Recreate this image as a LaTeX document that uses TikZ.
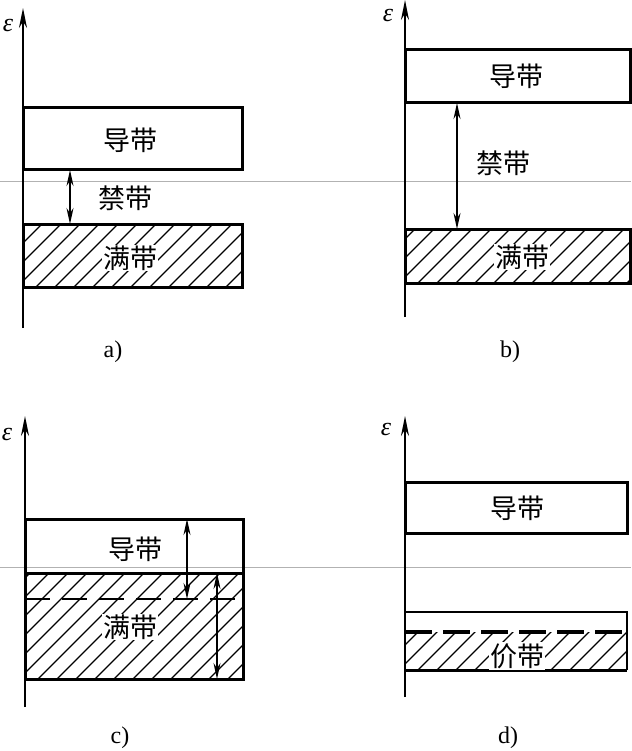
\documentclass[tikz,border=0pt]{standalone}
\usepackage{fontspec}
\setmainfont{Liberation Serif}
\newfontfamily\cjk{Noto Sans CJK SC}
\usetikzlibrary{arrows.meta, positioning}

% hachura a 45 graus dentro de um retangulo
\newcommand{\hachura}[4]{%
  \begin{scope}
    \clip (#1,#2) rectangle (#3,#4);
    \foreach \k in {-120,-101,...,260} \draw[hach] (#1+\k,#4) -- ++(300,-300);
  \end{scope}}

\begin{document}
\begin{tikzpicture}[x=1pt, y=-1pt, >=Stealth,
		eixo/.style={line width=1.8pt, -{Stealth[length=20pt, width=8pt]}},
		banda/.style={line width=3pt},
		hach/.style={line width=1.1pt},
		seta/.style={line width=1.5pt, {Stealth[length=16pt, width=7pt]}-{Stealth[length=16pt, width=7pt]}},
		rotulo/.style={font=\cjk\fontsize{27}{30}\selectfont, inner sep=1pt},
		rotulobr/.style={rotulo, fill=white},
		eps/.style={font=\fontsize{26}{28}\selectfont\itshape, inner sep=0pt},
		legenda/.style={font=\fontsize{24}{26}\selectfont},
		tracos/.style={line width=2pt, dash pattern=on 25pt off 12pt},
		tracosg/.style={line width=3.5pt, dash pattern=on 27pt off 11pt}]
		
		\useasboundingbox (0,0) rectangle (631,751);
		
		% Linhas finas da digitalizacao
		\draw[gray!60, line width=0.8pt] (0,181) -- (631,181);
		\draw[gray!60, line width=0.8pt] (0,567) -- (631,567);
		
		% ---------- a) ----------
		\hachura{23}{224}{242}{287}
		\draw[banda] (23,108) rectangle (242,170);
		\draw[banda] (23,224) rectangle (242,287);
		\coordinate (a-base) at (23,328);
		\coordinate (a-topo) at (23,8);
		\draw[eixo] (a-base) -- (a-topo);
		\node[eps] (a-eps) at (8,26) {ε};
		\node[rotulo] (a-cond) at (130,140) {导带};
		\node[rotulo] (a-proib) at (125,198) {禁带};
		\node[rotulobr] (a-cheia) at (130,258) {满带};
		\coordinate (a-g1) at (70,170);
		\coordinate (a-g2) at (70,224);
		\draw[seta] (a-g1) -- (a-g2);
		\node[legenda] (a-leg) at (113,352) {a)};
		
		% ---------- b) ----------
		\hachura{405}{229}{631}{283}
		\draw[banda] (405,50) rectangle (630,103);
		\draw[banda] (405,229) rectangle (630,283);
		\coordinate (b-base) at (405,317);
		\coordinate (b-topo) at (405,0);
		\draw[eixo] (b-base) -- (b-topo);
		\node[eps] (b-eps) at (388,16) {ε};
		\node[rotulo] (b-cond) at (516,76) {导带};
		\node[rotulo] (b-proib) at (503,163) {禁带};
		\node[rotulobr] (b-cheia) at (522,257) {满带};
		\coordinate (b-g1) at (457,103);
		\coordinate (b-g2) at (457,229);
		\draw[seta] (b-g1) -- (b-g2);
		\node[legenda] (b-leg) at (510,352) {b)};
		
		% ---------- c) ----------
		\hachura{25}{573}{243}{679}
		\draw[tracos] (25,599) -- (243,599);
		\draw[banda] (25,519) rectangle (243,573);
		\draw[banda] (25,573) rectangle (243,679);
		\coordinate (c-base) at (25,707);
		\coordinate (c-topo) at (25,416);
		\draw[eixo] (c-base) -- (c-topo);
		\node[eps] (c-eps) at (7,434) {ε};
		\node[rotulo] (c-cond) at (135,549) {导带};
		\node[rotulobr] (c-cheia) at (130,627) {满带};
		\coordinate (c-g1) at (187,519);
		\coordinate (c-g2) at (187,599);
		\draw[seta] (c-g1) -- (c-g2);
		\coordinate (c-g3) at (217,573);
		\coordinate (c-g4) at (217,679);
		\draw[seta] (c-g3) -- (c-g4);
		\node[legenda] (c-leg) at (120,738) {c)};
		
		% ---------- d) ----------
		\hachura{405}{632}{627}{670}
		\draw[banda] (405,482) rectangle (627,533);
		\draw[line width=2pt] (405,612) -- (627,612) -- (627,670);
		\draw[banda] (405,670) -- (627,670);
		\draw[tracosg] (405,632) -- (627,632);
		\coordinate (d-base) at (405,697);
		\coordinate (d-topo) at (405,416);
		\draw[eixo] (d-base) -- (d-topo);
		\node[eps] (d-eps) at (386,429) {ε};
		\node[rotulo] (d-cond) at (517,508) {导带};
		\node[rotulobr] (d-val) at (517,656) {价带};
		\node[legenda] (d-leg) at (508,738) {d)};
		
	\end{tikzpicture}
\end{document}
